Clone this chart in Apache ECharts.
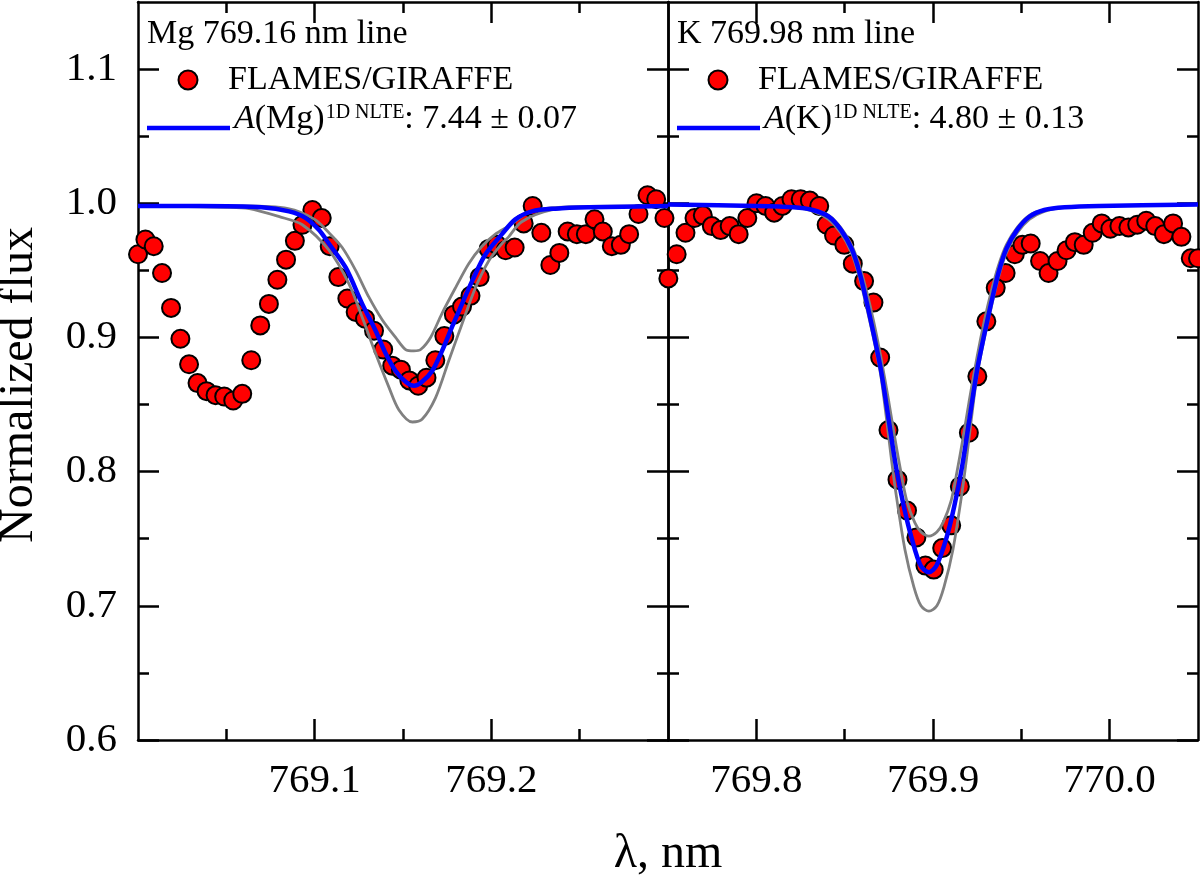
<!DOCTYPE html>
<html>
<head>
<meta charset="utf-8">
<script src="https://cdn.jsdelivr.net/npm/echarts@6/dist/echarts.min.js"></script>
<style>
  html, body { margin: 0; padding: 0; background: #fff; }
  #chart { width: 1200px; height: 879px; }
</style>
</head>
<body>
<div id="chart"></div>
<script>
const FONT = 'Liberation Serif';

// axis ranges and ticks
const yRange = [0.6, 1.15];
const yMajor = [0.6, 0.7, 0.8, 0.9, 1.0, 1.1];
const yMinor = [0.65, 0.75, 0.85, 0.95, 1.05];
const mgRange = [769.0, 769.3];
const mgMajor = [769.1, 769.2];
const mgMinor = [769.05, 769.15, 769.25];
const kRange = [769.75, 770.05];
const kMajor = [769.8, 769.9, 770.0];
const kMinor = [769.85, 769.95];

// Mg 769.16 nm: observed spectrum (FLAMES/GIRAFFE)
const mgObs = [
  [769.0000, 0.962], [769.0042, 0.973], [769.0089, 0.968], [769.0136, 0.948], [769.0187, 0.922],
  [769.0240, 0.899], [769.0289, 0.880], [769.0337, 0.866], [769.0388, 0.860], [769.0439, 0.857],
  [769.0488, 0.856], [769.0539, 0.853], [769.0590, 0.858], [769.0641, 0.883], [769.0692, 0.909],
  [769.0741, 0.925], [769.0789, 0.943], [769.0838, 0.958], [769.0888, 0.972], [769.0931, 0.984],
  [769.0987, 0.995], [769.1040, 0.989], [769.1085, 0.968], [769.1134, 0.945], [769.1185, 0.929],
  [769.1232, 0.919], [769.1285, 0.914], [769.1336, 0.905], [769.1388, 0.891], [769.1439, 0.879],
  [769.1488, 0.876], [769.1536, 0.868], [769.1586, 0.864], [769.1633, 0.870], [769.1683, 0.883],
  [769.1734, 0.901], [769.1788, 0.917], [769.1834, 0.923], [769.1882, 0.931], [769.1934, 0.945],
  [769.1985, 0.966], [769.2032, 0.969], [769.2081, 0.965], [769.2132, 0.967], [769.2183, 0.985],
  [769.2234, 0.998], [769.2283, 0.978], [769.2334, 0.954], [769.2385, 0.963], [769.2432, 0.979],
  [769.2484, 0.977], [769.2535, 0.977], [769.2584, 0.988], [769.2631, 0.979], [769.2682, 0.968],
  [769.2733, 0.969], [769.2780, 0.977], [769.2833, 0.992], [769.2884, 1.006], [769.2933, 1.003],
  [769.2980, 0.989]
];
// Mg synthetic profiles: best fit and the two bounding abundances
const mgFit = [
  [769.000, 0.998], [769.035, 0.998], [769.070, 0.997], [769.0855, 0.994], [769.095, 0.989],
  [769.1025, 0.980], [769.108, 0.970], [769.1176, 0.952], [769.1269, 0.925], [769.1345, 0.905],
  [769.1402, 0.888], [769.1458, 0.875], [769.1515, 0.867], [769.1562, 0.864], [769.1608, 0.867],
  [769.1665, 0.875], [769.1721, 0.890], [769.1778, 0.908], [769.1834, 0.925], [769.1891, 0.942],
  [769.1967, 0.962], [769.206, 0.977], [769.2136, 0.988], [769.223, 0.994], [769.2362, 0.996],
  [769.255, 0.997], [769.300, 0.998]
];
const mgWeak = [
  [769.000, 0.998], [769.060, 0.998], [769.085, 0.996], [769.100, 0.988], [769.1081, 0.978],
  [769.1156, 0.967], [769.1232, 0.950], [769.1307, 0.930], [769.1383, 0.913], [769.1458, 0.900],
  [769.1515, 0.891], [769.1562, 0.890], [769.1600, 0.891], [769.1656, 0.900], [769.1721, 0.918],
  [769.1797, 0.937], [769.1872, 0.955], [769.1947, 0.968], [769.2023, 0.977], [769.2098, 0.983],
  [769.221, 0.993], [769.238, 0.997], [769.300, 0.998]
];
const mgStrong = [
  [769.000, 0.998], [769.050, 0.997], [769.063, 0.996], [769.080, 0.990], [769.093, 0.984],
  [769.1081, 0.965], [769.1194, 0.940], [769.1269, 0.915], [769.1345, 0.888], [769.1420, 0.863],
  [769.1477, 0.846], [769.1553, 0.837], [769.1608, 0.839], [769.1684, 0.855], [769.1760, 0.883],
  [769.1834, 0.910], [769.1910, 0.937], [769.1985, 0.957], [769.2060, 0.970], [769.2098, 0.975],
  [769.2170, 0.986], [769.2340, 0.995], [769.258, 0.997], [769.300, 0.998]
];

// K 769.98 nm: observed spectrum
const kObs = [
  [769.7502, 0.944], [769.7549, 0.962], [769.7599, 0.978], [769.7650, 0.989], [769.7697, 0.991],
  [769.7748, 0.983], [769.7798, 0.980], [769.7849, 0.983], [769.7900, 0.977], [769.7949, 0.989],
  [769.8001, 1.000], [769.8052, 0.998], [769.8101, 0.993], [769.8148, 0.998], [769.8199, 1.003],
  [769.8251, 1.003], [769.8303, 1.002], [769.8356, 0.998], [769.8398, 0.984], [769.8440, 0.976],
  [769.8498, 0.969], [769.8546, 0.955], [769.8610, 0.942], [769.8663, 0.926], [769.8701, 0.885],
  [769.8748, 0.831], [769.8799, 0.794], [769.8853, 0.771], [769.8906, 0.751], [769.8957, 0.730],
  [769.9004, 0.727], [769.9052, 0.743], [769.9103, 0.760], [769.9152, 0.789], [769.9203, 0.829],
  [769.9251, 0.871], [769.9302, 0.912], [769.9355, 0.937], [769.9411, 0.948], [769.9463, 0.962],
  [769.9506, 0.969], [769.9553, 0.970], [769.9606, 0.957], [769.9654, 0.948], [769.9705, 0.957],
  [769.9756, 0.965], [769.9803, 0.971], [769.9853, 0.969], [769.9904, 0.978], [769.9955, 0.985],
  [770.0004, 0.981], [770.0055, 0.983], [770.0106, 0.982], [770.0156, 0.984], [770.0207, 0.987],
  [770.0258, 0.983], [770.0307, 0.977], [770.0359, 0.985], [770.0406, 0.975], [770.0459, 0.959],
  [770.0500, 0.959]
];
const kFit = [
  [769.750, 0.999], [769.800, 0.998], [769.821, 0.997], [769.832, 0.995], [769.841, 0.990],
  [769.848, 0.980], [769.854, 0.966], [769.8585, 0.948], [769.8625, 0.926], [769.8665, 0.902],
  [769.8705, 0.876], [769.875, 0.838], [769.879, 0.804], [769.8835, 0.774], [769.888, 0.750],
  [769.893, 0.730], [769.8977, 0.725], [769.902, 0.730], [769.9075, 0.750], [769.912, 0.774],
  [769.9165, 0.804], [769.9205, 0.838], [769.925, 0.876], [769.929, 0.902], [769.933, 0.926],
  [769.937, 0.948], [769.9415, 0.966], [769.9475, 0.980], [769.9545, 0.990], [769.963, 0.995],
  [769.9745, 0.997], [769.994, 0.998], [770.050, 0.999]
];
const kWeak = [
  [769.750, 0.999], [769.801, 0.998], [769.821, 0.997], [769.8324, 0.995], [769.8409, 0.991],
  [769.8477, 0.982], [769.8539, 0.969], [769.8585, 0.953], [769.8625, 0.934], [769.8664, 0.912],
  [769.8704, 0.886], [769.875, 0.852], [769.8784, 0.825], [769.8818, 0.800], [769.8852, 0.778],
  [769.8897, 0.762], [769.8932, 0.755], [769.8977, 0.752], [769.9022, 0.755], [769.9057, 0.762],
  [769.9102, 0.778], [769.9136, 0.800], [769.917, 0.825], [769.9204, 0.852], [769.925, 0.886],
  [769.929, 0.912], [769.9329, 0.934], [769.9369, 0.953], [769.9415, 0.969], [769.9477, 0.982],
  [769.9545, 0.991], [769.963, 0.995], [769.9744, 0.997], [769.9943, 0.998], [770.050, 0.999]
];
const kStrong = [
  [769.750, 0.999], [769.801, 0.998], [769.821, 0.997], [769.8324, 0.994], [769.8409, 0.988],
  [769.8477, 0.978], [769.8539, 0.963], [769.8585, 0.944], [769.8625, 0.922], [769.8664, 0.899],
  [769.8704, 0.872], [769.8738, 0.838], [769.8761, 0.813], [769.8789, 0.785], [769.8841, 0.742],
  [769.8892, 0.714], [769.8932, 0.700], [769.8977, 0.696], [769.9022, 0.700], [769.9062, 0.714],
  [769.9113, 0.742], [769.9165, 0.785], [769.9193, 0.813], [769.9216, 0.838], [769.925, 0.872],
  [769.929, 0.899], [769.9329, 0.922], [769.9369, 0.944], [769.9415, 0.963], [769.9477, 0.978],
  [769.9545, 0.988], [769.963, 0.994], [769.9744, 0.997], [769.9943, 0.998], [770.050, 0.999]
];

const frame = { color: '#000', width: 2.5 };
const label = { fontFamily: FONT, fontSize: 41, color: '#000' };

// one side of a panel = main axis (line, long ticks, maybe labels) + minor ticks axis
function side(grid, position, range, major, minor, showLabels) {
  const base = {
    type: 'value', gridIndex: grid, position: position,
    min: range[0], max: range[1], splitLine: { show: false }
  };
  return [
    Object.assign({}, base, {
      axisLine: { show: true, onZero: false, lineStyle: frame },
      axisTick: { show: true, inside: true, length: 21, customValues: major, lineStyle: frame },
      axisLabel: showLabels ? Object.assign({
        show: true, customValues: major, margin: 21,
        formatter: v => v.toFixed(1)
      }, label) : { show: false }
    }),
    Object.assign({}, base, {
      axisLine: { show: false, onZero: false },
      axisTick: { show: true, inside: true, length: 11, customValues: minor, lineStyle: frame },
      axisLabel: { show: false }
    })
  ];
}

const xAxes = [].concat(
  side(0, 'bottom', mgRange, mgMajor, mgMinor, true),
  side(0, 'top', mgRange, mgMajor, mgMinor, false),
  side(1, 'bottom', kRange, kMajor, kMinor, true),
  side(1, 'top', kRange, kMajor, kMinor, false)
);
const yAxes = [].concat(
  side(0, 'left', yRange, yMajor, yMinor, true),
  side(0, 'right', yRange, yMajor, yMinor, false),
  side(1, 'left', yRange, yMajor, yMinor, false),
  side(1, 'right', yRange, yMajor, yMinor, false)
);

function obsSeries(data, xi) {
  return {
    type: 'scatter', xAxisIndex: xi, yAxisIndex: xi, data: data,
    symbol: 'circle', symbolSize: 18,
    itemStyle: { color: '#ff0000', borderColor: '#000', borderWidth: 2, opacity: 1 }
  };
}
function profile(data, xi, color, width) {
  return {
    type: 'line', xAxisIndex: xi, yAxisIndex: xi, data: data,
    showSymbol: false, smooth: 0.3,
    lineStyle: { color: color, width: width }
  };
}

// plain text element; align defaults to left
const txt = (x, y, text, size, align, rotation) => ({
  type: 'text', x: x, y: y, silent: true, rotation: rotation || 0,
  style: {
    text: text, fill: '#000', font: size + 'px "' + FONT + '"',
    align: align || 'left', verticalAlign: 'middle'
  }
});

function legend(x0, title, elem, value) {
  const main = { fontFamily: FONT, fontSize: 34, lineHeight: 34, padding: [10, 0, 0, 0], verticalAlign: 'bottom', fill: '#000' };
  return [
    txt(x0 + 9, 34, title, 34),
    { type: 'circle', silent: true, shape: { cx: x0 + 50, cy: 80, r: 9.5 },
      style: { fill: '#ff0000', stroke: '#000', lineWidth: 2 } },
    txt(x0 + 90, 80, 'FLAMES/GIRAFFE', 34),
    { type: 'line', silent: true, shape: { x1: x0 + 9, y1: 128, x2: x0 + 92, y2: 128 },
      style: { stroke: '#0000ff', lineWidth: 4.5 } },
    { type: 'text', x: x0 + 96, y: 102, silent: true,
      style: {
        text: '{a|A}{b|(' + elem + ')}{s|1D NLTE}{b|: ' + value + '}',
        align: 'left', verticalAlign: 'top',
        rich: {
          a: Object.assign({}, main, { fontStyle: 'italic' }),
          b: main,
          s: { fontFamily: FONT, fontSize: 20, lineHeight: 20, padding: [1, 0, 0, 1], verticalAlign: 'top', fill: '#000' }
        }
      } }
  ];
}

const chart = echarts.init(document.getElementById('chart'), null, { renderer: 'canvas' });
chart.setOption({
  animation: false,
  backgroundColor: '#fff',
  textStyle: { fontFamily: FONT },
  grid: [
    { left: 138, right: 532, top: 2, bottom: 139 },
    { left: 668, right: 2, top: 2, bottom: 139 }
  ],
  xAxis: xAxes,
  yAxis: yAxes,
  series: [
    obsSeries(mgObs, 0),
    profile(mgWeak, 0, '#808080', 2.8),
    profile(mgStrong, 0, '#808080', 2.8),
    profile(mgFit, 0, '#0000ff', 4.5),
    obsSeries(kObs, 4),
    profile(kWeak, 4, '#808080', 2.8),
    profile(kStrong, 4, '#808080', 2.8),
    profile(kFit, 4, '#0000ff', 4.5)
  ],
  graphic: [].concat(
    legend(138, 'Mg 769.16 nm line', 'Mg', '7.44 \u00b1 0.07'),
    legend(668, 'K 769.98 nm line', 'K', '4.80 \u00b1 0.13'),
    [
      txt(19, 385, 'Normalized flux', 48, 'center', Math.PI / 2),
      txt(668, 854, '\u03bb, nm', 48, 'center')
    ]
  )
});
</script>
</body>
</html>
